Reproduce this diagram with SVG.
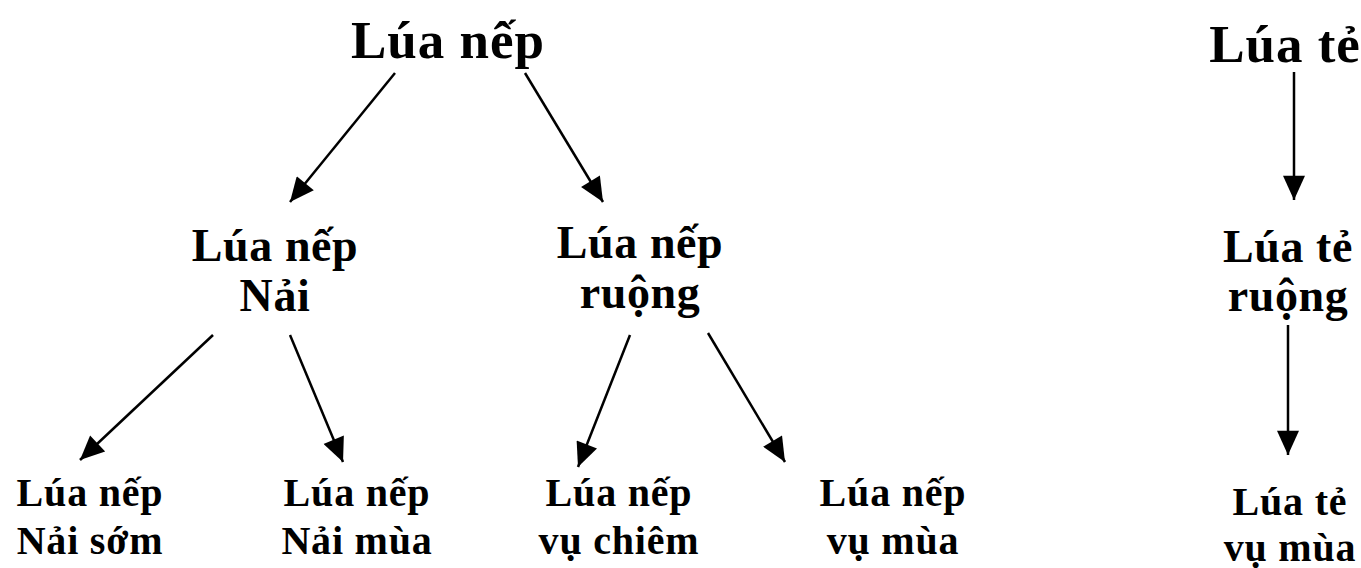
<svg xmlns="http://www.w3.org/2000/svg" width="1361" height="568" viewBox="0 0 1361 568">
<style>
text{font-family:"Liberation Serif","Times New Roman",serif;font-weight:bold;fill:#000;text-anchor:middle}
.t1{font-size:53px;letter-spacing:1px}
.t2{font-size:46px;letter-spacing:0.6px}
.t3{font-size:40px;letter-spacing:0.8px}
.c{stroke:#000;stroke-width:2.5;fill:none;marker-end:url(#ah)}
</style>
<defs>
<marker id="ah" markerUnits="userSpaceOnUse" markerWidth="26" markerHeight="22" refX="22" refY="10" orient="auto" viewBox="0 0 22 20">
<path d="M0,0 L22,10 L0,20 Z" fill="#000"/>
</marker>
</defs>
<rect width="1361" height="568" fill="#fff"/>
<g id="connectors">
<line class="c" x1="395" y1="73" x2="290" y2="202"/>
<line class="c" x1="525" y1="73" x2="603" y2="202"/>
<line class="c" x1="213" y1="335" x2="80" y2="460"/>
<line class="c" x1="290" y1="335" x2="343" y2="462"/>
<line class="c" x1="630" y1="335" x2="578" y2="467"/>
<line class="c" x1="708" y1="333" x2="785" y2="462"/>
<line class="c" x1="1294" y1="72" x2="1294" y2="200"/>
<line class="c" x1="1288" y1="325" x2="1288" y2="455"/>
</g>
<g id="lua-nep"><text class="t1" x="448" y="58">Lúa nếp</text></g>
<g id="lua-te"><text class="t1" x="1285" y="62">Lúa tẻ</text></g>
<g id="lua-nep-nai"><text class="t2" x="275" y="261">Lúa nếp</text><text class="t2" x="275" y="311">Nải</text></g>
<g id="lua-nep-ruong"><text class="t2" x="640" y="258">Lúa nếp</text><text class="t2" x="640" y="308">ruộng</text></g>
<g id="lua-te-ruong"><text class="t2" x="1288" y="262">Lúa tẻ</text><text class="t2" x="1288" y="311">ruộng</text></g>
<g id="nai-som"><text class="t3" x="90" y="506">Lúa nếp</text><text class="t3" x="90" y="554">Nải sớm</text></g>
<g id="nai-mua"><text class="t3" x="357" y="506">Lúa nếp</text><text class="t3" x="357" y="554">Nải mùa</text></g>
<g id="vu-chiem"><text class="t3" x="619" y="506">Lúa nếp</text><text class="t3" x="619" y="554">vụ chiêm</text></g>
<g id="vu-mua"><text class="t3" x="893" y="506">Lúa nếp</text><text class="t3" x="893" y="554">vụ mùa</text></g>
<g id="te-vu-mua"><text class="t3" x="1290" y="515">Lúa tẻ</text><text class="t3" x="1290" y="561">vụ mùa</text></g>
</svg>
